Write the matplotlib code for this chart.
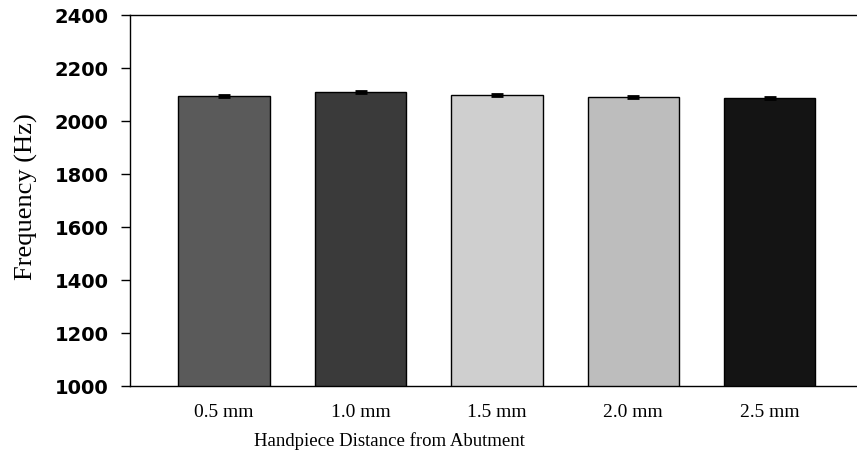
import numpy as np
from matplotlib import pyplot as plt

# mean resonance frequency per handpiece distance
distances = ["0.5 mm", "1.0 mm", "1.5 mm", "2.0 mm", "2.5 mm"]
frequency = [2095, 2108, 2097, 2091, 2086]
frequency_err = [4, 4, 4, 3, 3]
bar_colors = ["#5a5a5a", "#3a3a3a", "#cfcfcf", "#bdbdbd", "#141414"]

fig = plt.figure(figsize=(8.57, 4.61), dpi=100)
ax = fig.add_axes([130 / 857, 1 - 386 / 461, 727 / 857, 371 / 461])

x = np.arange(len(distances))
ax.bar(x, frequency, width=0.67, color=bar_colors, edgecolor="black", linewidth=1.0,
       yerr=frequency_err, capsize=4, error_kw={"elinewidth": 1.5, "capthick": 2})

ax.set_ylim(1000, 2400)
ax.set_xlim(-0.69, 4.64)
ax.set_yticks(np.arange(1000, 2401, 200))
ax.tick_params(axis="y", direction="out", length=6.5, width=1, pad=9)
ax.tick_params(axis="x", length=0, pad=13)
for lbl in ax.get_yticklabels():
    lbl.set_fontfamily("DejaVu Sans")
    lbl.set_fontweight("bold")
    lbl.set_fontsize(14)

ax.set_xticks(x)
ax.set_xticklabels(distances, fontfamily="Liberation Serif", fontsize=14)

ax.spines["right"].set_visible(False)
for side in ["left", "top", "bottom"]:
    ax.spines[side].set_linewidth(1.0)

fig.text(26 / 857, 1 - 197 / 461, "Frequency (Hz)", rotation=90, ha="center", va="center",
         fontfamily="Liberation Serif", fontsize=19)
fig.text(389 / 857, 1 - 441 / 461, "Handpiece Distance from Abutment", ha="center",
         va="center", fontfamily="Liberation Serif", fontsize=13.5)

fig.savefig("out.png", dpi=100)
